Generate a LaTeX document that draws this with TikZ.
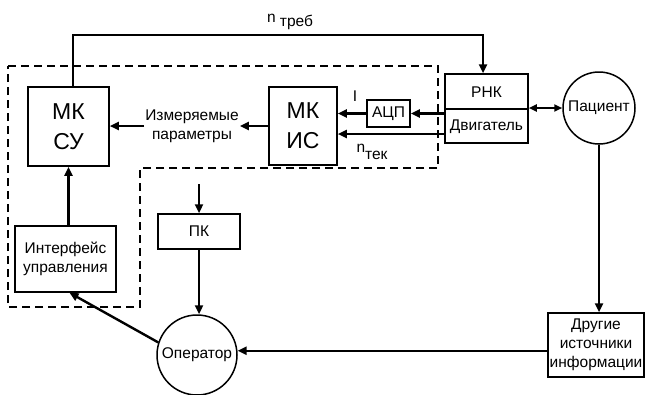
\documentclass[tikz,border=0pt]{standalone}
\usepackage{fontspec}
\setmainfont{Liberation Sans}
\usetikzlibrary{arrows.meta,calc}
\begin{document}
\begin{tikzpicture}[x=1pt,y=-1pt,
  txt/.style={font=\fontsize{15.5}{19}\selectfont},
  box/.style={txt,draw,line width=1.5pt,inner sep=0pt,align=center},
  big/.style={font=\fontsize{23}{30}\selectfont},
  circ/.style={txt,draw,circle,line width=1.5pt,inner sep=0pt},
  conn/.style={line width=2.4pt},
  arr/.style={conn,-{Triangle[length=9pt,width=8pt]}},
  lbl/.style={txt,align=center,inner sep=1pt}]
\useasboundingbox (0,0) rectangle (645,394);
% dashed region
\draw[line width=1.8pt,dash pattern=on 8pt off 5pt] (8,66) -- (438,66) -- (438,168) -- (140,168) -- (140,307) -- (8,307) -- cycle;
% nodes
\node[box,big,minimum width=81pt,minimum height=79pt] (mksu) at (68.5,126.5) {МК\\СУ};
\node[box,big,minimum width=68pt,minimum height=78pt] (mkis) at (303,126) {МК\\ИС};
\node[box,minimum width=43pt,minimum height=27pt] (adc) at (388.5,113.5) {АЦП};
\node[box,minimum width=83pt,minimum height=69pt] (rnk) at (486.5,108.5) {};
\coordinate (div) at (0,109);
\draw[line width=1.5pt] (rnk.west |- div) -- (rnk.east |- div);
\node[lbl] (rnkt) at (486.5,92) {РНК};
\node[lbl] (dvig) at (486.5,127) {Двигатель};
\node[circ,minimum size=72pt] (pat) at (599,108) {Пациент};
\node[box,minimum width=96pt,minimum height=64pt] (oth) at (596,345) {Другие\\источники\\информации};
\node[box,minimum width=82pt,minimum height=35pt] (pk) at (199,231.5) {ПК};
\node[box,minimum width=101pt,minimum height=66pt] (ifc) at (65.5,259) {Интерфейс\\управления};
\node[circ,minimum size=80pt] (op) at (197,355) {Оператор};
% labels
\node[lbl] (meas) at (192,126) {Измеряемые\\параметры};
\node[lbl] (ntreb) at (290,22) {n \raisebox{-4pt}{треб}};
\node[lbl] (ntek) at (372,152) {n\raisebox{-7pt}{тек}};
\node[lbl] (ilbl) at (355,96) {I};
% connectors
\coordinate (tr) at (483,35);
\draw[arr] ([xshift=4.5pt]mksu.north) |- (tr) -- ([xshift=-3.5pt]rnk.north);
\draw[arr] (mkis.west) -- (meas.east);
\draw[arr] (meas.west) -- (mksu.east |- meas.west);
\draw[arr] (rnk.west |- adc.east) -- (adc.east);
\draw[arr] (adc.west) -- (mkis.east |- adc.west);
\coordinate (ytek) at (0,134);
\draw[arr] (rnk.west |- ytek) -- (mkis.east |- ytek);
\draw[conn,{Triangle[length=8pt,width=7pt]}-{Triangle[length=8pt,width=7pt]}] (rnk.east |- pat.west) -- (pat.west);
\draw[arr] (pat.south) -- (pat.south |- oth.north);
\draw[arr] (oth.west |- op.6) -- (op.6);
\coordinate (pkin) at (199,184);
\draw[arr] (pkin) -- (pk.north);
\draw[arr] (pk.south) -- (pk.south |- op.north);
\draw[arr] (op.162) -- ([xshift=4pt]ifc.south);
\draw[arr] (mksu.south |- ifc.north) -- (mksu.south);
\end{tikzpicture}
\end{document}
